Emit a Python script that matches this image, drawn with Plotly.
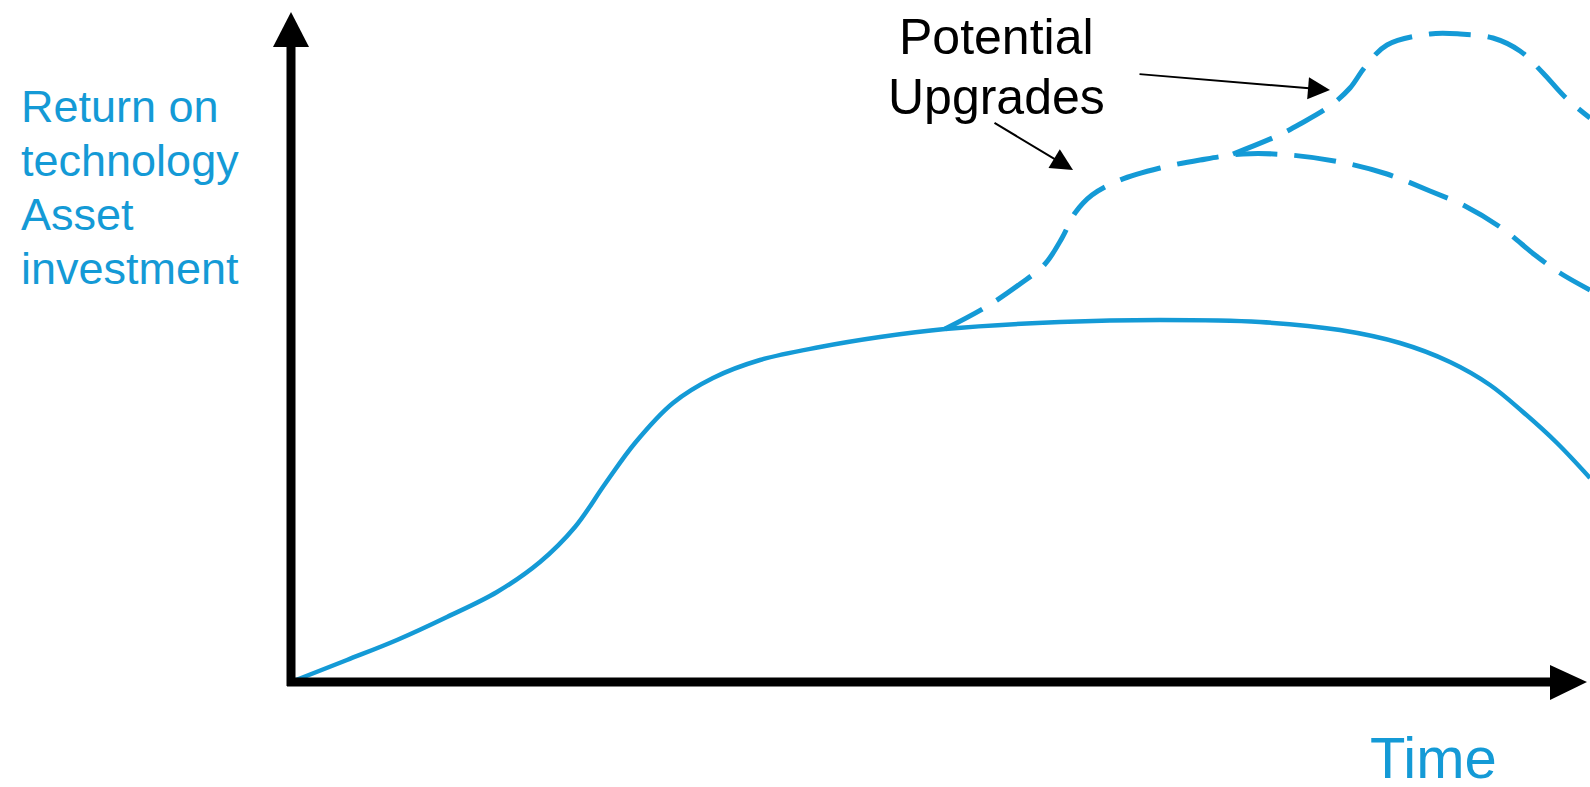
import plotly.graph_objects as go

# ---- data (time units, return units; origin at axis crossing) ----
base_time = [0, 56, 106, 156, 206, 249, 284, 314, 344, 382, 422, 469, 529, 589, 654,
             769, 869, 969, 1049, 1109, 1159, 1199, 1232, 1266, 1299]
base_return = [0, 22, 42, 65, 90, 120, 155, 198, 239, 279, 304, 322, 335, 345, 353,
               360, 362, 360, 352, 339, 320, 297, 270, 239, 204]

upgrade1_time = [654, 695, 729, 754, 771, 784, 801, 829, 869, 909, 952, 999, 1049, 1096,
                 1139, 1174, 1212, 1244, 1269, 1299]
upgrade1_return = [353, 375, 398, 418, 444, 469, 487, 502, 514, 522, 528, 527, 520, 508,
                   491, 476, 453, 427, 409, 392]

upgrade2_time = [942, 986, 1009, 1039, 1059, 1074, 1096, 1139, 1169, 1202, 1229, 1252, 1274, 1299]
upgrade2_return = [528, 546, 558, 576, 594, 615, 637, 648, 648, 644, 631, 609, 585, 564]

y_label_lines = ["Return on", "technology", "Asset", "investment"]
x_label = "Time"
callout_lines = ["Potential", "Upgrades"]

# ---- layout helpers (pixel -> axis units) ----
W, H = 1590, 787
OX, OY = 291, 682
def tx(px):
    return px - OX
def ry(py):
    return OY - py

BLUE = "#149ad6"
FONT = "Liberation Sans, Arial, sans-serif"

fig = go.Figure()
fig.add_trace(go.Scatter(x=base_time, y=base_return, mode="lines",
                         line=dict(color=BLUE, width=4.5, shape="spline", smoothing=1.0),
                         hoverinfo="skip"))
fig.add_trace(go.Scatter(x=upgrade1_time, y=upgrade1_return, mode="lines",
                         line=dict(color=BLUE, width=5, dash="42px,17px", shape="spline", smoothing=1.0),
                         hoverinfo="skip"))
fig.add_trace(go.Scatter(x=upgrade2_time, y=upgrade2_return, mode="lines",
                         line=dict(color=BLUE, width=5, dash="42px,17px", shape="spline", smoothing=1.0),
                         hoverinfo="skip"))

shapes = []
# y axis arrow
shapes.append(dict(type="line", x0=tx(OX), y0=ry(OY + 4), x1=tx(OX), y1=ry(45),
                   line=dict(color="black", width=9)))
shapes.append(dict(type="path",
                   path=f"M {tx(273)},{ry(47)} L {tx(309)},{ry(47)} L {tx(291)},{ry(12)} Z",
                   fillcolor="black", line=dict(color="black", width=0)))
# x axis arrow
shapes.append(dict(type="line", x0=tx(OX - 4), y0=ry(OY), x1=tx(1552), y1=ry(OY),
                   line=dict(color="black", width=9)))
shapes.append(dict(type="path",
                   path=f"M {tx(1550)},{ry(665)} L {tx(1550)},{ry(700)} L {tx(1587)},{ry(OY)} Z",
                   fillcolor="black", line=dict(color="black", width=0)))

annotations = []
for i, t in enumerate(y_label_lines):
    annotations.append(dict(x=tx(19), y=ry(106 + 54 * i), text=t, showarrow=False,
                            xanchor="left", yanchor="middle",
                            font=dict(family=FONT, size=45, color=BLUE)))
annotations.append(dict(x=tx(1433), y=ry(757), text=x_label, showarrow=False,
                        xanchor="center", yanchor="middle",
                        font=dict(family=FONT, size=58, color=BLUE)))
for i, t in enumerate(callout_lines):
    annotations.append(dict(x=tx(996), y=ry(37 + 60 * i), text=t, showarrow=False,
                            xanchor="center", yanchor="middle",
                            font=dict(family=FONT, size=50, color="black")))
# callout arrows
for (x0, y0, x1, y1) in [(1138, 74, 1330, 90), (993, 122, 1073, 170)]:
    annotations.append(dict(x=tx(x1), y=ry(y1), ax=tx(x0), ay=ry(y0), axref="x", ayref="y",
                            text="", showarrow=True, arrowhead=2, arrowsize=2.2, arrowwidth=2,
                            arrowcolor="black"))

fig.update_layout(
    width=W, height=H, margin=dict(l=0, r=0, t=0, b=0),
    paper_bgcolor="white", plot_bgcolor="white", showlegend=False,
    xaxis=dict(range=[tx(0), tx(W)], visible=False, fixedrange=True),
    yaxis=dict(range=[ry(H), ry(0)], visible=False, fixedrange=True),
    shapes=shapes, annotations=annotations,
)
fig.write_html("out.html", config={"displayModeBar": False},
               post_script="document.body.style.margin='0';document.body.style.overflow='hidden';")
